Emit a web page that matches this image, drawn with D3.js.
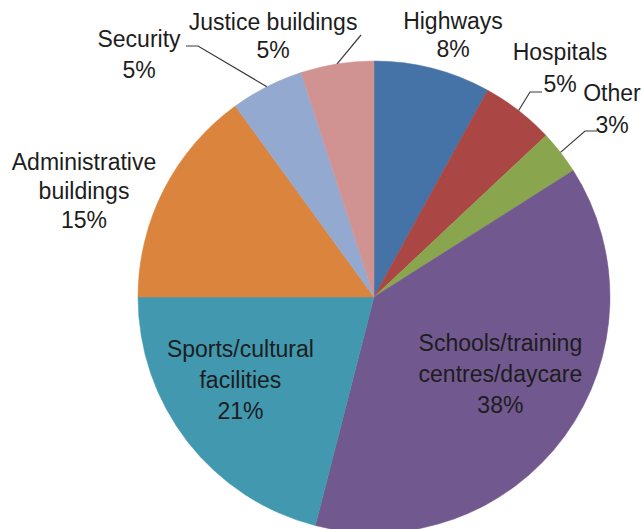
<!DOCTYPE html>
<html>
<head>
<meta charset="utf-8">
<script src="https://cdn.jsdelivr.net/npm/d3@7"></script>
<style>
  body { margin: 0; background: #fff; }
  text { font-family: "Liberation Sans", Arial, sans-serif; font-size: 23px; fill: #1d1d1d; }
</style>
</head>
<body>
<script>
var width = 642,
    height = 529,
    cx = 374,
    cy = 297,
    radius = 236;

// data, clockwise from 12 o'clock
var categories = ['Highways', 'Hospitals', 'Other', 'Schools/training centres/daycare',
                  'Sports/cultural facilities', 'Administrative buildings', 'Security', 'Justice buildings'];
var shares = [8, 5, 3, 38, 21, 15, 5, 5];
var labelLines = [['Highways'], ['Hospitals'], ['Other'], ['Schools/training', 'centres/daycare'],
                  ['Sports/cultural', 'facilities'], ['Administrative', 'buildings'], ['Security'], ['Justice buildings']];

var colors = ['#4572a7', '#aa4643', '#89a54e', '#71588f', '#4198af', '#db843d', '#93a9cf', '#d19392'];

// label placement relative to pie centre; elbow = leader line bend, tip = end of leader
var layout = [
  { x: 79, y: -268, gap: 28 },
  { x: 186, y: -237, gap: 32, elbow: [156, -205], tip: [168, -205] },
  { x: 238, y: -196, gap: 32, elbow: [211, -166], tip: [223, -166] },
  { inner: 0.62, dx: 8, dy: -12, gap: 31 },
  { inner: 0.62, dx: -18, dy: -10, gap: 31 },
  { x: -290, y: -127, gap: 29 },
  { x: -235, y: -250, gap: 31, elbow: [-176, -251], tip: [-188, -251] },
  { x: -101, y: -267, gap: 28, elbow: [-13, -262] }
];

var data = categories.map(function(c, i) {
  return { name: c, value: shares[i], lines: labelLines[i], color: colors[i], lay: layout[i] };
});

var svg = d3.select('body').append('svg')
    .attr('width', width)
    .attr('height', height);

var g = svg.append('g').attr('transform', 'translate(' + cx + ',' + cy + ')');

var pie = d3.pie().sort(null).value(function(d) { return d.value; });
var arcs = pie(data);

var arc = d3.arc().innerRadius(0).outerRadius(radius);
var edge = d3.arc().innerRadius(radius).outerRadius(radius);

g.selectAll('path.slice')
  .data(arcs)
  .enter().append('path')
    .attr('class', 'slice')
    .attr('d', arc)
    .attr('fill', function(d) { return d.data.color; })
    .attr('stroke', function(d) { return d.data.color; })
    .attr('stroke-width', 0.5);

// leader lines
arcs.forEach(function(d) {
  var l = d.data.lay;
  if (!l.elbow) return;
  var pts = [edge.centroid(d), l.elbow];
  if (l.tip) pts.push(l.tip);
  g.append('path')
    .attr('d', d3.line()(pts))
    .attr('fill', 'none')
    .attr('stroke', '#3a3a3a')
    .attr('stroke-width', 1.2);
});

// labels
arcs.forEach(function(d) {
  var l = d.data.lay, x, y;
  if (l.inner) {
    var c = d3.arc().innerRadius(0).outerRadius(radius * l.inner * 2).centroid(d);
    x = c[0] + l.dx;
    y = c[1] + l.dy - (d.data.lines.length) * l.gap / 2 + l.gap * 0.35;
  } else {
    x = l.x;
    y = l.y;
  }
  var t = g.append('text').attr('text-anchor', 'middle');
  var lines = d.data.lines.concat([d.data.value + '%']);
  lines.forEach(function(s, i) {
    t.append('tspan').attr('x', x).attr('y', y + i * l.gap).text(s);
  });
});
</script>
</body>
</html>
